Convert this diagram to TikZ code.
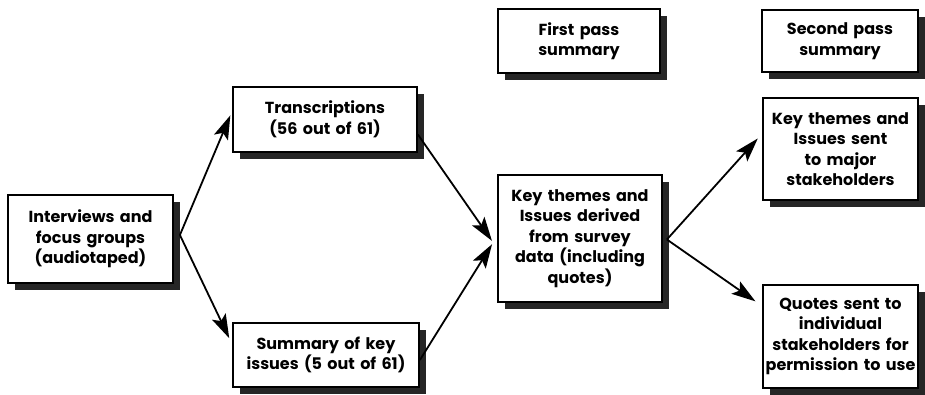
\documentclass[tikz,border=0pt]{standalone}
\usepackage{fontspec}
\setmainfont{Poppins}
\usetikzlibrary{arrows.meta,calc}
\tikzset{
  box/.style={draw=black, line width=1.8pt, fill=white, align=center, inner sep=1pt,
    font=\fontsize{16}{20.5}\selectfont\bfseries},
  shadowbox/.style={fill=black!85, draw=none},
  conn/.style={line width=1.8pt, -{Stealth[length=24pt,width=15pt,inset=5pt]}, shorten >=2pt}
}
\newcommand{\myshbox}[6]{% name, cx, cy, w, h, text
  \fill[shadowbox] (#2-#4/2+7,#3-#5/2+7) rectangle (#2+#4/2+7,#3+#5/2+7);
  \node[box, text width=#4pt-4pt, minimum width=#4pt, minimum height=#5pt] (#1) at (#2,#3) {#6};
}
\begin{document}
\begin{tikzpicture}[x=1pt,y=-1pt]
\useasboundingbox[fill=white] (0,0) rectangle (925,395);
\myshbox{int}{90.5}{239}{165}{88}{Interviews and\\focus groups\\(audiotaped)}
\myshbox{trans}{325}{119.5}{184}{65}{Transcriptions\\(56 out of 61)}
\myshbox{sum}{326}{355}{186}{64}{Summary of key\\issues (5 out of 61)}
\myshbox{key}{580}{238.5}{164}{127}{Key themes and\\Issues derived\\from survey\\data (including\\quotes)}
\myshbox{first}{579}{41}{162}{64}{First pass\\summary}
\myshbox{second}{840}{41}{156}{62}{Second pass\\summary}
\myshbox{sent}{840.5}{149}{155}{102}{Key themes and\\Issues sent\\to major\\stakeholders}
\myshbox{quotes}{840.5}{336.5}{155}{103}{Quotes sent to\\individual\\stakeholders for\\permission to use}
\coordinate (intout) at ($(int.east)+(6,-4)$);
\coordinate (keyin) at ($(key.west)+(-4,4)$);
\coordinate (keyout) at ($(key.east)+(4,1)$);
\draw[conn] (intout) -- ($(trans.west)+(-1,-6)$);
\draw[conn] (intout) -- ($(sum.west)+(-2,-15)$);
\draw[conn] ($(trans.east)+(0,15)$) -- (keyin);
\draw[conn] ($(sum.east)+(0,5)$) -- (keyin);
\draw[conn] (keyout) -- ($(sent.west)+(-3,-12)$);
\draw[conn] (keyout) -- ($(quotes.west)+(-5,-34)$);
\end{tikzpicture}
\end{document}
